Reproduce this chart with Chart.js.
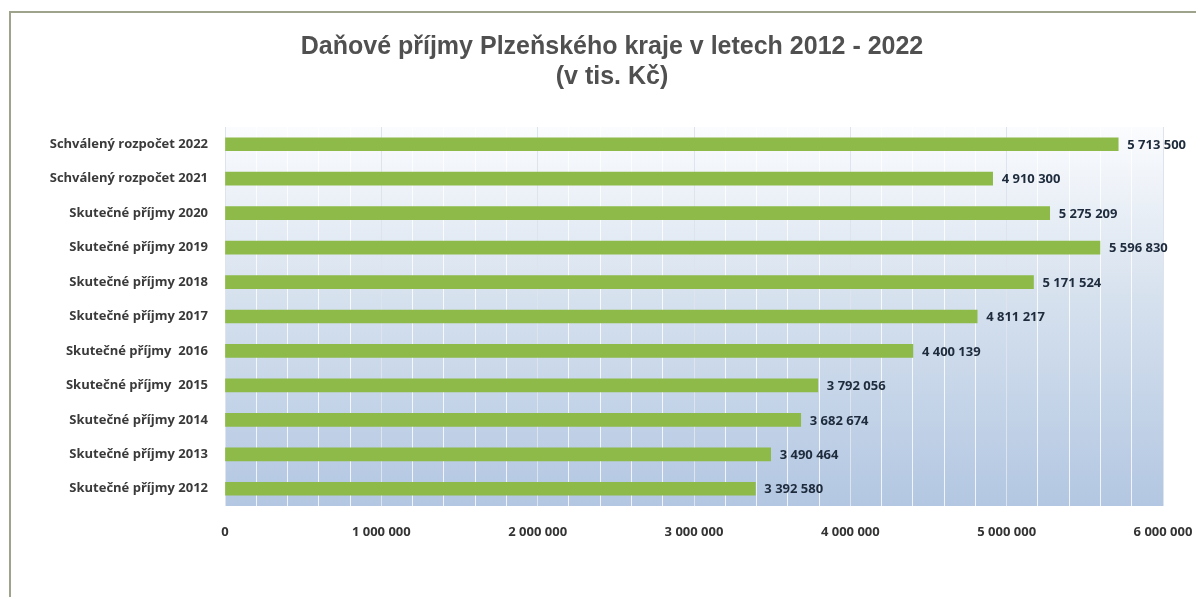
<!DOCTYPE html>
<html lang="cs">
<head>
<meta charset="utf-8">
<title>Daňové příjmy Plzeňského kraje</title>
<script src="https://cdn.jsdelivr.net/npm/chart.js@4.4.1/dist/chart.umd.min.js"></script>
<style>
    html, body { margin: 0; padding: 0; background: #ffffff; }
    #wrap { position: relative; width: 1196px; height: 597px; overflow: hidden; }
    #frame {
        position: absolute; left: 9px; top: 11px; width: 1200px; height: 600px;
        border: 2px solid #9ea48c; box-sizing: border-box; pointer-events: none;
    }
    canvas { position: absolute; left: 0; top: 0; }
</style>
</head>
<body>
<div id="wrap">
    <canvas id="chart" width="1196" height="597"></canvas>
    <div id="frame"></div>
</div>
<script>
// Data (v tis. Kč)
const categories = [
    'Schválený rozpočet 2022',
    'Schválený rozpočet 2021',
    'Skutečné příjmy 2020',
    'Skutečné příjmy 2019',
    'Skutečné příjmy 2018',
    'Skutečné příjmy 2017',
    'Skutečné příjmy  2016',
    'Skutečné příjmy  2015',
    'Skutečné příjmy 2014',
    'Skutečné příjmy 2013',
    'Skutečné příjmy 2012'
];
const revenues = [5713500, 4910300, 5275209, 5596830, 5171524, 4811217, 4400139, 3792056, 3682674, 3490464, 3392580];
const xTickValues = [0, 1000000, 2000000, 3000000, 4000000, 5000000, 6000000];
const titleLines = ['Daňové příjmy Plzeňského kraje v letech 2012 - 2022', '(v tis. Kč)'];

const fmt = v => String(v).replace(/\B(?=(\d{3})+(?!\d))/g, ' ');
const labelFont = { family: "'Open Sans', sans-serif", size: 13, weight: 'bold' };

// plot area background: light to blue gradient
const plotBackground = {
    id: 'plotBackground',
    beforeDraw(chart) {
        const { ctx, chartArea: a } = chart;
        const g = ctx.createLinearGradient(0, a.top, 0, a.bottom);
        g.addColorStop(0, '#fbfcfe');
        g.addColorStop(0.45, '#d6e1ee');
        g.addColorStop(1, '#b3c7e2');
        ctx.save();
        ctx.fillStyle = g;
        ctx.fillRect(a.left, a.top, a.right - a.left, a.bottom - a.top);
        ctx.restore();
    }
};

// value labels to the right of each bar
const valueLabels = {
    id: 'valueLabels',
    afterDatasetsDraw(chart) {
        const { ctx } = chart;
        const meta = chart.getDatasetMeta(0);
        ctx.save();
        ctx.font = `bold ${labelFont.size}px ${labelFont.family}`;
        ctx.fillStyle = '#1e2b3c';
        ctx.textAlign = 'left';
        ctx.textBaseline = 'middle';
        meta.data.forEach((bar, i) => {
            ctx.fillText(fmt(revenues[i]), bar.x + 9, bar.y + 1);
        });
        ctx.restore();
    }
};

new Chart(document.getElementById('chart'), {
    type: 'bar',
    data: {
        labels: categories,
        datasets: [{
            data: revenues,
            backgroundColor: '#8dba48',
            borderWidth: 0,
            barThickness: 13
        }]
    },
    options: {
        indexAxis: 'y',
        responsive: false,
        animation: false,
        layout: { padding: { left: 30, right: 2, top: 18, bottom: 51 } },
        plugins: {
            legend: { display: false },
            tooltip: { enabled: false },
            title: {
                display: true,
                text: titleLines,
                color: '#505050',
                font: { family: "'Liberation Sans', Arial, sans-serif", size: 25, weight: 'bold', lineHeight: 1.2 },
                padding: { top: 14, bottom: 35 }
            }
        },
        scales: {
            x: {
                min: 0,
                max: 6000000,
                border: { display: false },
                grid: {
                    drawTicks: false,
                    lineWidth: 1,
                    color: c => (c.tick && c.tick.value % 1000000 === 0) ? 'rgba(222,228,238,1)' : 'rgba(255,255,255,0.8)'
                },
                ticks: {
                    stepSize: 200000,
                    autoSkip: false,
                    maxRotation: 0,
                    padding: 18,
                    color: '#333333',
                    font: labelFont,
                    callback: v => xTickValues.includes(v) ? fmt(v) : ''
                },
                afterFit(scale) {
                    scale.height = 40;
                    scale.paddingLeft = 0;
                    scale.paddingRight = 33;
                }
            },
            y: {
                border: { display: false },
                grid: { display: false, drawTicks: false },
                ticks: {
                    padding: 17,
                    color: '#3a3a3a',
                    font: labelFont
                },
                afterFit(scale) { scale.width = 195; }
            }
        }
    },
    plugins: [plotBackground, valueLabels]
});
</script>
</body>
</html>
